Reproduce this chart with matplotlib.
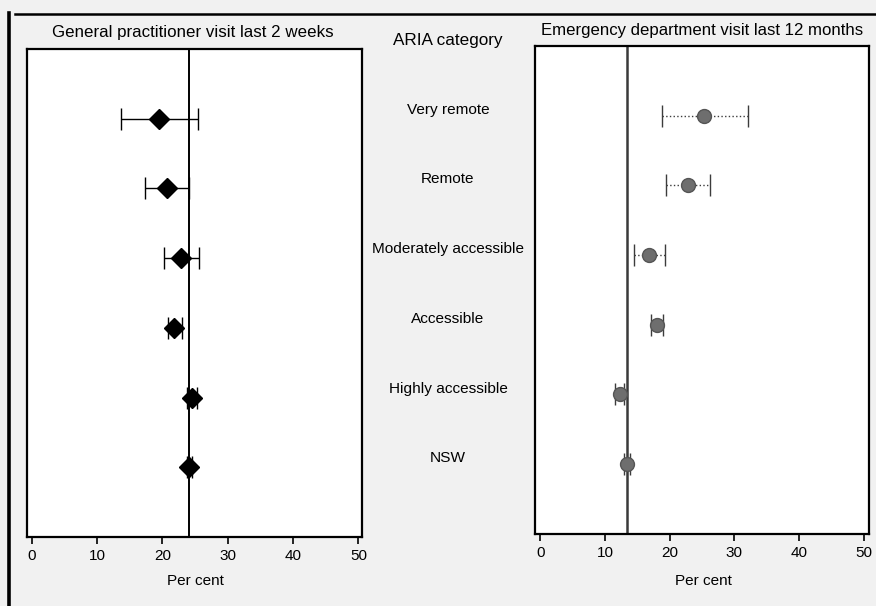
import matplotlib
matplotlib.use("Agg")
import matplotlib.pyplot as plt
import matplotlib.transforms as mtransforms
from matplotlib.lines import Line2D
import numpy as np

plt.rcParams['font.family'] = ['Liberation Sans', 'DejaVu Sans']

categories = ["Very remote", "Remote", "Moderately accessible",
              "Accessible", "Highly accessible", "NSW"]
gp_est = [19.5, 20.7, 22.9, 21.8, 24.5, 24.1]
gp_lo = [13.6, 17.4, 20.2, 20.8, 23.8, 23.7]
gp_hi = [25.4, 24.0, 25.6, 23.0, 25.3, 24.5]
ed_est = [25.3, 22.9, 16.8, 18.0, 12.3, 13.4]
ed_lo = [18.8, 19.4, 14.5, 17.1, 11.6, 13.0]
ed_hi = [32.1, 26.3, 19.3, 19.0, 13.0, 13.8]
xticks = [0, 10, 20, 30, 40, 50]

title_gp = "General practitioner visit last 2 weeks"
title_ed = "Emergency department visit last 12 months"
title_mid = "ARIA category"
xlabel = "Per cent"

W, H = 876, 606
fig = plt.figure(figsize=(W / 100, H / 100), dpi=100)
fig.patch.set_facecolor('#f1f1f1')

def px_axes(x0, y0, x1, y1):
    return fig.add_axes([x0 / W, 1 - y1 / H, (x1 - x0) / W, (y1 - y0) / H])

ax1 = px_axes(27.3, 49, 361.7, 537)
ax2 = px_axes(535.3, 46, 868.7, 533.5)

ypos = np.arange(1, len(categories) + 1)

def style(ax, xlim):
    ax.set_facecolor('white')
    ax.set_xlim(*xlim)
    ax.set_ylim(7, 0)
    ax.set_yticks([])
    ax.set_xticks(xticks)
    ax.set_xticklabels([str(t) for t in xticks])
    ax.tick_params(axis='x', direction='out', length=5, width=1.2,
                   pad=4, labelsize=11, colors='black')
    for s in ax.spines.values():
        s.set_linewidth(1.6)
        s.set_color('black')

style(ax1, (-0.67, 50.5))
style(ax2, (-0.77, 50.76))

# Left panel: GP visits
gp_est_a = np.array(gp_est)
ax1.axvline(gp_est[-1], color='black', lw=1.4, zorder=1)
ax1.errorbar(gp_est_a, ypos,
             xerr=[gp_est_a - np.array(gp_lo), np.array(gp_hi) - gp_est_a],
             fmt='D', color='black', ecolor='black', elinewidth=1.0,
             capsize=8, capthick=1.0, markersize=10, zorder=3)

# Right panel: ED visits
ed_est_a = np.array(ed_est)
ax2.axvline(ed_est[-1], color='#3a3a3a', lw=1.8, zorder=1)
eb = ax2.errorbar(ed_est_a, ypos,
                  xerr=[ed_est_a - np.array(ed_lo), np.array(ed_hi) - ed_est_a],
                  fmt='o', color='#6e6e6e', ecolor='#3c3c3c', elinewidth=1.0,
                  capsize=8, capthick=1.0, markersize=10, zorder=3,
                  markeredgecolor='#555555')
for lc in eb[2]:
    lc.set_linestyle(':')

# Titles
fig.text(193 / W, 1 - 32 / H, title_gp, ha='center', va='center', fontsize=12.2)
fig.text(702 / W, 1 - 30 / H, title_ed, ha='center', va='center', fontsize=12.1)
fig.text(448 / W, 1 - 40 / H, title_mid, ha='center', va='center', fontsize=12.3)

# Category labels in middle
trans = mtransforms.blended_transform_factory(fig.transFigure, ax1.transData)
for y, c in zip(ypos, categories):
    fig.text(448 / W, y - 0.13, c, transform=trans, ha='center', va='center',
             fontsize=11.1)

# x labels
fig.text(195 / W, 1 - 581 / H, xlabel, ha='center', va='center', fontsize=11)
fig.text(703 / W, 1 - 581 / H, xlabel, ha='center', va='center', fontsize=11)

# Scan frame lines
fig.add_artist(Line2D([8.5 / W, 8.5 / W], [0, 1 - 13 / H], transform=fig.transFigure,
                      color='black', lw=2.6))
fig.add_artist(Line2D([15 / W, 1], [1 - 13.5 / H, 1 - 13.5 / H], transform=fig.transFigure,
                      color='black', lw=1.8))

fig.savefig("out.png", dpi=100, facecolor=fig.get_facecolor())
